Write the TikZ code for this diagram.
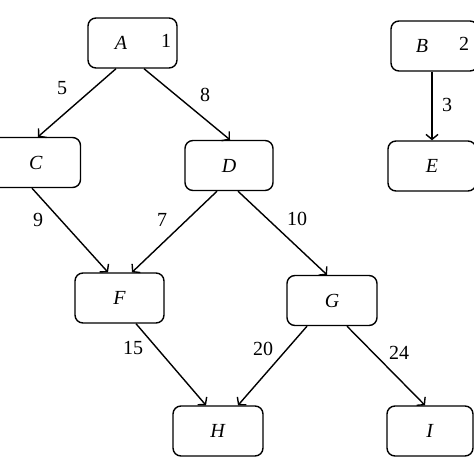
\documentclass[tikz,border=0pt]{standalone}
\usepackage{fontspec}
\setmainfont{Liberation Serif}
\usetikzlibrary{arrows.meta}
\begin{document}
\begin{tikzpicture}[x=1pt,y=-1pt,
  box/.style={draw, line width=1.4pt, rounded corners=8pt, minimum width=89pt, minimum height=50pt, inner sep=0pt, font=\fontsize{20}{23}\selectfont},
  wt/.style={font=\fontsize{20}{23}\selectfont, inner sep=0pt},
  arr/.style={line width=1.4pt, -{Straight Barb[length=5pt,width=12pt,line width=1.4pt]}}]
\useasboundingbox (0,0) rectangle (474,474);
\node[box] (A) at (132.5,43) {};
\node[wt] (Al) at (121,43) {\textit{A}};
\node[wt] (An) at (166,41) {1};
\node[box, minimum width=87pt] (B) at (434.5,46) {};
\node[wt] (Bl) at (422,46) {\textit{B}};
\node[wt] (Bn) at (464,44) {2};
\node[box] (C) at (36,162.5) {\textit{C}};
\node[box, minimum width=88pt] (D) at (229,165.5) {\textit{D}};
\node[box, minimum width=88pt] (E) at (432,166) {\textit{E}};
\node[box] (F) at (119.5,298) {\textit{F}};
\node[box, minimum width=90pt] (G) at (332,300.5) {\textit{G}};
\node[box, minimum width=90pt] (H) at (218,431) {\textit{H}};
\node[box, minimum width=86pt] (I) at (430,431) {\textit{I}};
\draw[arr] ([xshift=-16.5pt]A.south) -- ([xshift=2pt]C.north);
\draw[arr] ([xshift=11.5pt]A.south) -- ([xshift=1pt]D.north);
\draw[arr] ([xshift=-2.5pt]B.south) -- (E.north);
\draw[arr] ([xshift=-4pt]C.south) -- ([xshift=-11.5pt]F.north);
\draw[arr] ([xshift=-12pt]D.south) -- ([xshift=12.5pt]F.north);
\draw[arr] ([xshift=9pt]D.south) -- ([xshift=-5pt]G.north);
\draw[arr] ([xshift=16.5pt]F.south) -- ([xshift=-12pt]H.north);
\draw[arr] ([xshift=-25pt]G.south) -- ([xshift=20pt]H.north);
\draw[arr] ([xshift=15pt]G.south) -- ([xshift=-5pt]I.north);
\node[wt] (w5) at (62,88) {5};
\node[wt] (w8) at (205,95) {8};
\node[wt] (w3) at (447,105) {3};
\node[wt] (w9) at (38,220) {9};
\node[wt] (w7) at (162,220) {7};
\node[wt] (w10) at (297,219) {10};
\node[wt] (w15) at (133,348) {15};
\node[wt] (w20) at (263,349) {20};
\node[wt] (w24) at (399,353) {24};
\end{tikzpicture}
\end{document}
